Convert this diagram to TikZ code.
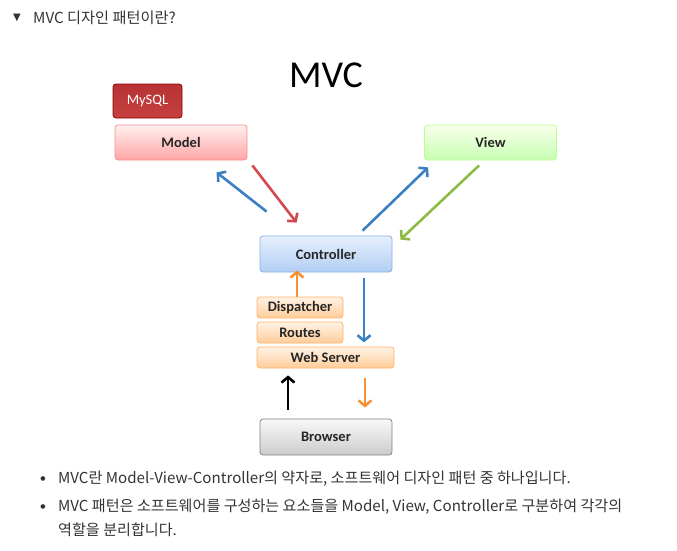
\documentclass[tikz,border=0pt]{standalone}
\usepackage{fontspec}
\setmainfont{Carlito}
\newfontfamily\kr{Noto Sans CJK KR}
\newfontfamily\sym{DejaVu Sans}
\usetikzlibrary{arrows.meta,calc}
\definecolor{testo}{HTML}{333333}
\definecolor{azz}{HTML}{3A80C3}
\definecolor{ross}{HTML}{D24A4E}
\definecolor{verd}{HTML}{8DBB45}
\definecolor{aran}{HTML}{F79233}
\definecolor{ctrlsu}{HTML}{E6F0FD}
\definecolor{ctrlgiu}{HTML}{B2CEF4}
\definecolor{ctrlbordo}{HTML}{8CB0E2}
\tikzset{
  comp/.style   = {rectangle, rounded corners=3pt, draw, line width=0.8pt, minimum width=132pt, minimum height=35pt, font=\bfseries\fontsize{14.5}{16}\selectfont, text=black!85},
  strato/.style = {comp, minimum width=86pt, minimum height=21pt, top color=orange!10, bottom color=orange!40, draw=orange!60},
  fl/.style     = {line width=2.6pt, -{Straight Barb[length=5.5pt,width=13pt]}},
  riga/.style   = {anchor=west, text=testo, font=\kr\fontsize{15.1}{16}\selectfont, inner sep=0},
  pallino/.style = {text=testo, font=\sym\fontsize{6}{8}\selectfont}
}
\begin{document}
\begin{tikzpicture}[x=1pt,y=-1pt]
  \useasboundingbox (0,0) rectangle (677,551);
  \node[text=testo, font=\sym\fontsize{10}{10}\selectfont] (tri) at (17,18) {▼};
  \node[riga, font=\kr\fontsize{15.2}{16}\selectfont] (tit) at (33,18) {MVC 디자인 패턴이란?};
  \node[font=\fontsize{38}{40}\selectfont] (mvc) at (326,75) {MVC};
  \node[comp, minimum width=69pt, minimum height=34pt, top color=red!65!black!80, bottom color=red!70!black!75, draw=red!55!black, text=white, font=\fontsize{14.5}{16}\selectfont] (db) at (147.5,101) {MySQL};
  \node[comp, top color=red!6, bottom color=red!35, draw=red!45] (model) at (181,142.5) {Model};
  \node[comp, top color=green!6!lime!8, bottom color=lime!35!green!30, draw=lime!50!green!45] (view) at (490.5,142.5) {View};
  \node[comp, minimum height=36pt, top color=ctrlsu, bottom color=ctrlgiu, draw=ctrlbordo] (ctrl) at (326,254) {Controller};
  \node[strato] (disp) at (300,307.5) {Dispatcher};
  \node[strato] (rout) at (300,332.5) {Routes};
  \node[strato, minimum width=137pt] (web) at (325.5,357.5) {Web Server};
  \node[comp, minimum height=36pt, top color=gray!5, bottom color=gray!40, draw=gray] (brow) at (326,437) {Browser};
  \draw[fl, azz]  ($(ctrl.north west)+(7,-24)$) -- ($(model.south west)+(102,12)$);
  \draw[fl, ross] ($(model.south east)+(5,5)$) -- ($(ctrl.north west)+(37,-13)$);
  \draw[fl, azz]  ($(ctrl.north west)+(103,-5)$) -- ($(view.south west)+(4,7)$);
  \draw[fl, verd] ($(view.south west)+(55,5)$) -- ($(ctrl.north east)+(8,4)$);
  \draw[fl, aran] ([xshift=-3pt]disp.north) -- ([xshift=-3pt, yshift=2pt]disp.north |- ctrl.south);
  \draw[fl, azz]  ($(ctrl.south)+(38,6)$) -- ($(ctrl.south -| web.north)+(38.5,70)$);
  \draw[fl, black] ($(brow.north)+(-38,-9)$) -- ($(web.south)+(-37.5,7)$);
  \draw[fl, aran] ($(web.south)+(39.5,10)$) -- ($(brow.north)+(39,-11)$);
  \node[pallino] (b1) at (43,479) {●};
  \node[riga] (t1) at (58,479) {MVC란 Model-View-Controller의 약자로, 소프트웨어 디자인 패턴 중 하나입니다.};
  \node[pallino] (b2) at (43,507) {●};
  \node[riga] (t2) at (58,507) {MVC 패턴은 소프트웨어를 구성하는 요소들을 Model, View, Controller로 구분하여 각각의};
  \node[riga] (t3) at (58,530) {역할을 분리합니다.};
\end{tikzpicture}
\end{document}
